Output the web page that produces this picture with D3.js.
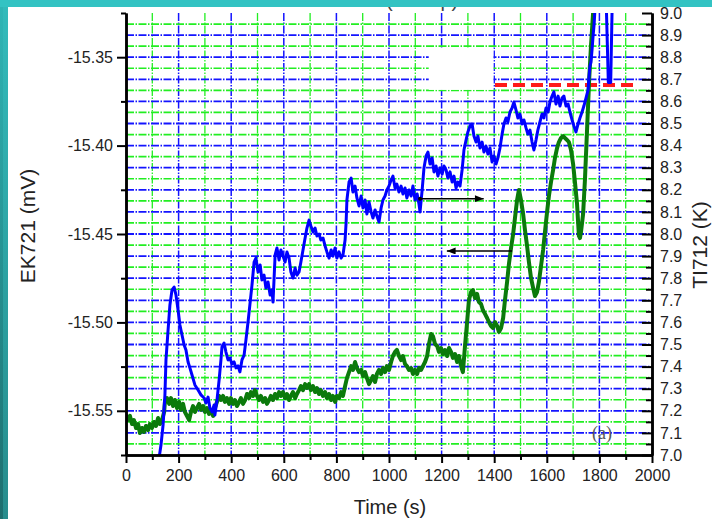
<!DOCTYPE html>
<html>
<head>
<meta charset="utf-8">
<script src="https://cdn.jsdelivr.net/npm/d3@7/dist/d3.min.js"></script>
<style>
  html, body { margin: 0; padding: 0; background: #fff; }
  svg { display: block; }
</style>
</head>
<body>
<svg id="chart" width="712" height="519"></svg>
<script>
// ---- data ------------------------------------------------------------
var xTicks = [0, 200, 400, 600, 800, 1000, 1200, 1400, 1600, 1800, 2000];
var leftTicks = [-15.55, -15.50, -15.45, -15.40, -15.35];
var rightTicks = [7.0, 7.1, 7.2, 7.3, 7.4, 7.5, 7.6, 7.7, 7.8, 7.9, 8.0,
  8.1, 8.2, 8.3, 8.4, 8.5, 8.6, 8.7, 8.8, 8.9, 9.0];

// TI712 (K), right axis
var blueTime = [
  125,133,141,148,152,160,167,175,183,190,
  198,205,213,221,228,236,243,251,262,274,
  285,297,304,312,319,327,335,338,346,354,
  361,365,373,380,388,395,403,411,418,426,
  433,441,449,456,464,471,479,487,494,502,
  510,517,525,532,540,548,555,559,567,574,
  582,589,597,605,612,620,627,635,643,650,
  658,665,673,681,688,696,703,711,719,726,
  734,741,749,757,764,772,780,787,795,802,
  810,818,825,833,837,840,848,856,863,871,
  878,886,894,901,909,916,924,932,939,947,
  954,962,970,977,985,992,1000,1008,1015,1023,
  1030,1038,1046,1053,1061,1068,1076,1084,1091,1099,
  1107,1114,1118,1126,1133,1141,1148,1156,1164,1171,
  1179,1186,1194,1202,1209,1217,1224,1232,1240,1247,
  1255,1262,1270,1278,1285,1293,1300,1308,1316,1323,
  1331,1338,1346,1354,1361,1369,1376,1384,1392,1399,
  1407,1414,1422,1430,1437,1445,1452,1460,1468,1475,
  1483,1490,1498,1506,1513,1521,1528,1536,1544,1551,
  1559,1566,1574,1582,1589,1597,1605,1612,1620,1627,
  1635,1643,1650,1658,1665,1673,1681,1688,1696,1703,
  1711,1719,1726,1734,1741,1749,1757,1760,1764,1768,
  1772,1776,1780,1783,1791,1821,1827,1834,1843,1848,
  1852
];
var blueTemp = [
  6.98,7.045,7.136,7.271,7.430,7.566,7.679,7.747,7.760,7.724,
  7.656,7.588,7.543,7.498,7.475,7.421,7.394,7.362,7.317,7.294,
  7.272,7.258,7.235,7.262,7.213,7.195,7.226,7.181,7.249,7.339,
  7.430,7.489,7.507,7.466,7.430,7.439,7.412,7.421,7.394,7.403,
  7.376,7.430,7.452,7.520,7.602,7.679,7.769,7.873,7.891,7.828,
  7.860,7.792,7.814,7.756,7.783,7.724,7.747,7.692,7.905,7.937,
  7.882,7.928,7.900,7.873,7.919,7.891,7.828,7.801,7.846,7.814,
  7.828,7.873,7.928,7.982,8.027,8.063,8.036,8.009,8.027,7.991,
  8.000,7.973,7.982,7.946,7.919,7.891,7.928,7.900,7.937,7.891,
  7.919,7.891,7.905,7.973,8.054,8.154,8.235,8.253,8.190,8.217,
  8.163,8.127,8.172,8.118,8.154,8.090,8.145,8.100,8.072,8.109,
  8.081,8.054,8.118,8.154,8.172,8.199,8.217,8.244,8.262,8.208,
  8.226,8.190,8.217,8.181,8.208,8.163,8.199,8.172,8.217,8.154,
  8.181,8.136,8.100,8.199,8.299,8.353,8.371,8.317,8.344,8.281,
  8.308,8.262,8.299,8.271,8.308,8.290,8.253,8.281,8.235,8.262,
  8.208,8.235,8.217,8.290,8.380,8.425,8.462,8.489,8.498,8.443,
  8.416,8.443,8.389,8.416,8.371,8.398,8.362,8.389,8.326,8.353,
  8.317,8.344,8.389,8.452,8.498,8.525,8.507,8.552,8.570,8.597,
  8.561,8.525,8.543,8.498,8.516,8.480,8.452,8.470,8.416,8.380,
  8.425,8.470,8.507,8.543,8.525,8.570,8.552,8.597,8.624,8.643,
  8.588,8.624,8.579,8.615,8.624,8.579,8.588,8.552,8.516,8.489,
  8.462,8.498,8.525,8.552,8.579,8.615,8.652,8.706,8.760,8.778,
  8.833,8.896,8.950,9.014,9.15,9.15,9.0,8.686,8.686,9.0,
  9.15
];

// EK721 (mV), left axis
var greenTime = [
  0,8,15,23,30,38,46,53,61,68,
  76,84,91,99,107,114,122,129,137,145,
  148,156,164,171,179,186,194,202,209,217,
  224,232,240,247,255,262,270,278,285,293,
  300,308,316,323,331,338,346,354,361,369,
  376,384,392,399,407,414,422,430,437,445,
  453,460,468,475,483,490,498,506,513,521,
  529,536,544,551,559,567,574,582,589,597,
  605,612,620,627,635,643,650,658,665,673,
  681,688,696,703,711,719,726,734,741,749,
  757,764,772,780,787,795,802,810,818,825,
  833,840,848,856,863,871,878,886,894,901,
  909,916,924,932,939,947,954,962,970,977,
  985,992,1000,1008,1015,1023,1030,1038,1046,1053,
  1061,1068,1076,1084,1091,1099,1107,1114,1122,1129,
  1137,1145,1152,1160,1167,1175,1183,1190,1198,1205,
  1213,1221,1228,1236,1243,1251,1259,1266,1274,1281,
  1289,1297,1304,1312,1319,1327,1335,1342,1350,1357,
  1365,1373,1380,1388,1395,1403,1411,1418,1426,1434,
  1441,1449,1456,1464,1472,1479,1487,1494,1502,1510,
  1517,1525,1532,1540,1548,1555,1563,1570,1578,1586,
  1593,1601,1608,1616,1624,1631,1639,1646,1654,1662,
  1669,1677,1684,1692,1700,1707,1715,1719,1722,1726,
  1730,1738,1745,1753,1761,1768,1776,1783
];
var greenVolt = [
  -15.5524,-15.5552,-15.5529,-15.5575,-15.5552,-15.5597,-15.5575,-15.5626,-15.5597,-15.5620,
  -15.5586,-15.5609,-15.5575,-15.5597,-15.5563,-15.5586,-15.5541,-15.5575,-15.5552,-15.5507,
  -15.5450,-15.5428,-15.5461,-15.5428,-15.5473,-15.5439,-15.5484,-15.5450,-15.5495,-15.5461,
  -15.5507,-15.5529,-15.5552,-15.5507,-15.5473,-15.5507,-15.5484,-15.5461,-15.5495,-15.5473,
  -15.5507,-15.5484,-15.5518,-15.5495,-15.5529,-15.5484,-15.5450,-15.5416,-15.5439,-15.5416,
  -15.5450,-15.5428,-15.5461,-15.5428,-15.5461,-15.5439,-15.5473,-15.5450,-15.5428,-15.5461,
  -15.5439,-15.5405,-15.5428,-15.5394,-15.5416,-15.5383,-15.5416,-15.5439,-15.5416,-15.5450,
  -15.5428,-15.5461,-15.5439,-15.5416,-15.5439,-15.5405,-15.5428,-15.5394,-15.5416,-15.5394,
  -15.5428,-15.5405,-15.5439,-15.5416,-15.5394,-15.5428,-15.5405,-15.5383,-15.5360,-15.5383,
  -15.5349,-15.5371,-15.5349,-15.5383,-15.5360,-15.5394,-15.5371,-15.5405,-15.5383,-15.5416,
  -15.5394,-15.5428,-15.5405,-15.5439,-15.5416,-15.5450,-15.5416,-15.5428,-15.5394,-15.5416,
  -15.5360,-15.5315,-15.5281,-15.5247,-15.5269,-15.5224,-15.5258,-15.5281,-15.5269,-15.5303,
  -15.5281,-15.5315,-15.5349,-15.5326,-15.5303,-15.5337,-15.5292,-15.5269,-15.5292,-15.5258,
  -15.5281,-15.5247,-15.5269,-15.5224,-15.5190,-15.5167,-15.5156,-15.5190,-15.5213,-15.5190,
  -15.5235,-15.5247,-15.5269,-15.5258,-15.5292,-15.5269,-15.5292,-15.5258,-15.5269,-15.5247,
  -15.5224,-15.5190,-15.5122,-15.5066,-15.5077,-15.5122,-15.5133,-15.5167,-15.5145,-15.5179,
  -15.5156,-15.5190,-15.5145,-15.5167,-15.5201,-15.5179,-15.5224,-15.5190,-15.5247,-15.5281,
  -15.5133,-15.4998,-15.4873,-15.4828,-15.4817,-15.4862,-15.4839,-15.4885,-15.4896,-15.4930,
  -15.4952,-15.4975,-15.4998,-15.5020,-15.5032,-15.4998,-15.5020,-15.5054,-15.5032,-15.4975,
  -15.4873,-15.4771,-15.4670,-15.4579,-15.4500,-15.4409,-15.4308,-15.4251,-15.4308,-15.4387,
  -15.4477,-15.4568,-15.4658,-15.4749,-15.4805,-15.4851,-15.4828,-15.4771,-15.4681,-15.4590,
  -15.4489,-15.4376,-15.4285,-15.4206,-15.4138,-15.4070,-15.4014,-15.3980,-15.3957,-15.3946,
  -15.3957,-15.3968,-15.3980,-15.4025,-15.4104,-15.4206,-15.4330,-15.4432,-15.4511,-15.4523,
  -15.4489,-15.4387,-15.4194,-15.3912,-15.3629,-15.3437,-15.3250,-15.3063
];

var setLevel = 8.674;        // red dashed limit (K)
var setFrom = 1403, setTo = 1940;

// ---- setup -----------------------------------------------------------
var svg = d3.select('#chart');
var font = '"Liberation Sans", Arial, sans-serif';
var plot = { left: 126, right: 652, top: 13, bottom: 455 };

var x = d3.scaleLinear().domain([0, 2000]).range([plot.left, plot.right]);
var yL = d3.scaleLinear().domain([-15.575, -15.325]).range([plot.bottom, plot.top]);
var yR = d3.scaleLinear().domain([7, 9]).range([plot.bottom, plot.top]);

var defs = svg.append('defs');
defs.append('clipPath').attr('id', 'clip')
  .append('rect')
  .attr('x', plot.left).attr('y', plot.top)
  .attr('width', plot.right - plot.left).attr('height', plot.bottom - plot.top);

defs.append('marker')
  .attr('id', 'head')
  .attr('markerUnits', 'userSpaceOnUse')
  .attr('viewBox', '0 0 10 8')
  .attr('refX', 10).attr('refY', 4)
  .attr('markerWidth', 10).attr('markerHeight', 7)
  .attr('orient', 'auto')
  .append('path').attr('d', 'M0,0L10,4L0,8z').attr('fill', '#000');

var band = defs.append('linearGradient').attr('id', 'band')
  .attr('x1', 0).attr('y1', 0).attr('x2', 0).attr('y2', 1);
band.append('stop').attr('offset', '0%').attr('stop-color', '#2fb6b6');
band.append('stop').attr('offset', '100%').attr('stop-color', '#1e6e6e');

svg.append('rect').attr('width', 712).attr('height', 519).attr('fill', '#fff');

// ---- grid ------------------------------------------------------------
var grid = svg.append('g');
var hMajor = rightTicks.slice(1, -1);
var hMinor = d3.range(20).map(i => 7.05 + i * 0.1);
var vMajor = xTicks.slice(1, -1);
var vMinor = d3.range(10).map(i => 100 + i * 200);

var hLines = (vals, color, w) => {
  grid.append('g').selectAll('line')
    .data(vals).enter().append('line')
    .attr('x1', plot.left).attr('x2', plot.right)
    .attr('y1', d => yR(d)).attr('y2', d => yR(d))
    .attr('stroke', color).attr('stroke-width', w)
    .attr('stroke-dasharray', '8,1.5,1.5,1.5');
};
var vLines = (vals, color, w) => {
  grid.append('g').selectAll('line')
    .data(vals).enter().append('line')
    .attr('x1', d => x(d)).attr('x2', d => x(d))
    .attr('y1', plot.top).attr('y2', plot.bottom)
    .attr('stroke', color).attr('stroke-width', w)
    .attr('stroke-dasharray', '8,1.5,1.5,1.5');
};
vLines(vMinor, '#22ee22', 1.3);
vLines(vMajor, '#1414ff', 1.5);
hLines(hMinor, '#22ee22', 1.7);
hLines(hMajor, '#1414ff', 1.8);

// white patch covering the grid near the top
svg.append('rect')
  .attr('x', x(1151)).attr('y', yR(8.842))
  .attr('width', x(1397) - x(1151)).attr('height', yR(8.652) - yR(8.842))
  .attr('fill', '#fff');

// ---- series ----------------------------------------------------------
var marks = svg.append('g').attr('clip-path', 'url(#clip)');

marks.append('line')
  .attr('x1', x(setFrom)).attr('x2', x(setTo))
  .attr('y1', yR(setLevel)).attr('y2', yR(setLevel))
  .attr('stroke', '#ff1a1a').attr('stroke-width', 4)
  .attr('stroke-dasharray', '12,6');

var greenLine = d3.line().x(d => x(d[0])).y(d => yL(d[1]));
var blueLine = d3.line().x(d => x(d[0])).y(d => yR(d[1]));

marks.append('path')
  .datum(d3.zip(greenTime, greenVolt))
  .attr('d', greenLine)
  .attr('fill', 'none').attr('stroke', '#0b7a0b')
  .attr('stroke-width', 4).attr('stroke-linejoin', 'round');

marks.append('path')
  .datum(d3.zip(blueTime, blueTemp))
  .attr('d', blueLine)
  .attr('fill', 'none').attr('stroke', '#0000ff')
  .attr('stroke-width', 3).attr('stroke-linejoin', 'round');

// arrows telling which axis each curve belongs to
svg.append('line')
  .attr('x1', x(1118)).attr('x2', x(1360))
  .attr('y1', yR(8.160)).attr('y2', yR(8.160))
  .attr('stroke', '#000').attr('stroke-width', 1.5)
  .attr('marker-end', 'url(#head)');
svg.append('circle')
  .attr('cx', x(1118)).attr('cy', yR(8.160)).attr('r', 2).attr('fill', '#000');

svg.append('line')
  .attr('x1', x(1468)).attr('x2', x(1220))
  .attr('y1', yL(-15.4596)).attr('y2', yL(-15.4596))
  .attr('stroke', '#000').attr('stroke-width', 1.5)
  .attr('marker-end', 'url(#head)');

svg.append('text')
  .attr('x', x(1810)).attr('y', yR(7.1) + 6)
  .attr('text-anchor', 'middle')
  .attr('font-family', '"Liberation Serif", "Times New Roman", serif')
  .attr('font-size', 18).attr('fill', '#555')
  .text('(a)');

// ---- axes ------------------------------------------------------------
var styleAxis = g => {
  g.attr('font-family', font);
  g.select('.domain').attr('stroke', '#000').attr('stroke-width', 2.5);
  g.selectAll('.tick line').attr('stroke', '#000').attr('stroke-width', 2);
  g.selectAll('.tick text').attr('font-size', 16).attr('fill', '#222');
  return g;
};

svg.append('g').attr('transform', 'translate(' + plot.left + ',0)')
  .call(d3.axisLeft(yL).tickValues(d3.range(6).map(i => -15.575 + i * 0.05))
    .tickSize(5).tickFormat('').tickSizeOuter(0))
  .call(styleAxis);
svg.append('g').attr('transform', 'translate(' + plot.left + ',0)')
  .call(d3.axisLeft(yL).tickValues(leftTicks).tickSize(9).tickPadding(4)
    .tickSizeOuter(0).tickFormat(d => d.toFixed(2)))
  .call(styleAxis);

svg.append('g').attr('transform', 'translate(' + plot.right + ',0)')
  .call(d3.axisRight(yR).tickValues(hMinor).tickSize(-6).tickFormat('').tickSizeOuter(0))
  .call(styleAxis);
svg.append('g').attr('transform', 'translate(' + plot.right + ',0)')
  .call(d3.axisRight(yR).tickValues(rightTicks).tickSize(-10).tickPadding(8)
    .tickSizeOuter(0).tickFormat(d3.format('.1f')))
  .call(styleAxis);

svg.append('g').attr('transform', 'translate(0,' + plot.bottom + ')')
  .call(d3.axisBottom(x).tickValues(vMinor).tickSize(5).tickFormat('').tickSizeOuter(0))
  .call(styleAxis);
svg.append('g').attr('transform', 'translate(0,' + plot.bottom + ')')
  .call(d3.axisBottom(x).tickValues(xTicks).tickSize(8).tickPadding(7)
    .tickSizeOuter(0).tickFormat(d3.format('d')))
  .call(styleAxis);

// axis titles
svg.append('text')
  .attr('x', 390).attr('y', 514)
  .attr('text-anchor', 'middle')
  .attr('font-family', font).attr('font-size', 20).attr('fill', '#222')
  .text('Time (s)');

svg.append('text')
  .attr('transform', 'translate(28,226) rotate(-90)')
  .attr('text-anchor', 'middle').attr('dy', '0.35em')
  .attr('font-family', font).attr('font-size', 21).attr('fill', '#222')
  .text('EK721 (mV)');

svg.append('text')
  .attr('transform', 'translate(700,245) rotate(-90)')
  .attr('text-anchor', 'middle').attr('dy', '0.35em')
  .attr('font-family', font).attr('font-size', 21).attr('fill', '#222')
  .text('TI712 (K)');

// title that is mostly hidden under the slide banner
svg.append('text')
  .attr('x', 386).attr('y', 6.5)
  .attr('font-family', font).attr('font-size', 20).attr('fill', '#444')
  .text('(Tsamp)');

// ---- slide frame -----------------------------------------------------
svg.append('rect').attr('x', 0).attr('y', 0).attr('width', 8).attr('height', 519)
  .attr('fill', 'url(#band)');
svg.append('rect').attr('x', 3).attr('y', 0).attr('width', 5).attr('height', 519)
  .attr('fill', '#3ac6c6').attr('opacity', 0.35);
svg.append('rect').attr('x', 0).attr('y', 0).attr('width', 712).attr('height', 7)
  .attr('fill', '#33c3c3');
</script>
</body>
</html>
